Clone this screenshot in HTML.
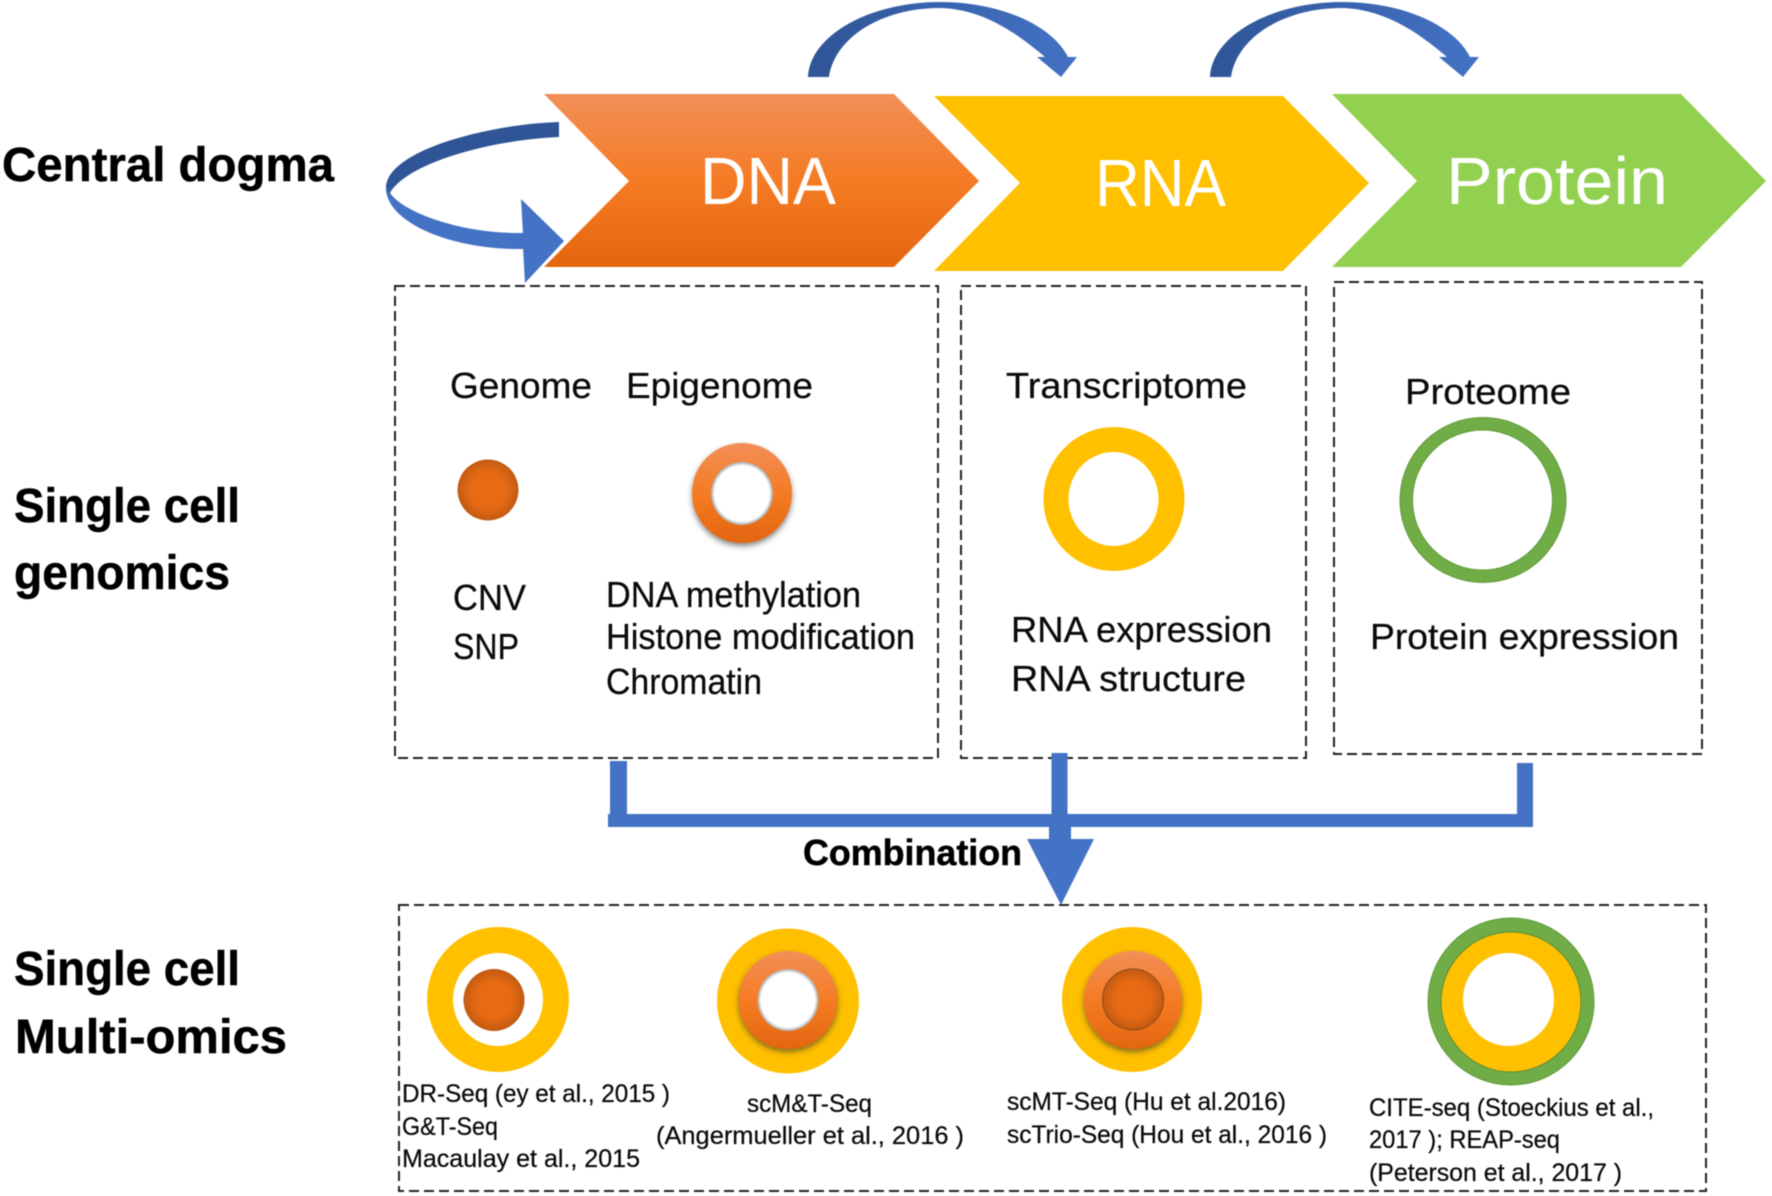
<!DOCTYPE html>
<html>
<head>
<meta charset="utf-8">
<style>
html,body{margin:0;padding:0;background:#fff;width:1772px;height:1196px;overflow:hidden}
svg{display:block;filter:blur(0.5px)}
text{font-family:"Liberation Sans",sans-serif;fill:#0a0a0a;stroke:#0a0a0a;stroke-width:0.25}
.b{font-weight:bold;fill:#000;stroke:#000;stroke-width:0.5}
.w{fill:#fff;stroke:none}
.box{fill:none;stroke:#222;stroke-width:2;stroke-dasharray:10 5}
</style>
</head>
<body>
<svg width="1772" height="1196" viewBox="0 0 1772 1196" xmlns="http://www.w3.org/2000/svg">
<defs>
<linearGradient id="org" x1="0" y1="0" x2="0" y2="1">
<stop offset="0" stop-color="#f28f58"/><stop offset="0.5" stop-color="#f57b24"/><stop offset="1" stop-color="#e3660f"/>
</linearGradient>
<radialGradient id="dot"><stop offset="0" stop-color="#ec6c14"/><stop offset="0.6" stop-color="#e66a14"/><stop offset="1" stop-color="#c25a12"/></radialGradient>
<radialGradient id="hole"><stop offset="0" stop-color="#fff"/><stop offset="0.88" stop-color="#fff"/><stop offset="1" stop-color="#a8a8a8"/></radialGradient>
<linearGradient id="arc" x1="0" y1="0" x2="1" y2="0"><stop offset="0" stop-color="#2f5597"/><stop offset="1" stop-color="#4472c4"/></linearGradient>
<linearGradient id="loop" x1="0" y1="0" x2="0" y2="1"><stop offset="0" stop-color="#2f5597"/><stop offset="0.5" stop-color="#2f5597"/><stop offset="0.6" stop-color="#4472c4"/><stop offset="1" stop-color="#4472c4"/></linearGradient>
<filter id="sh" x="-20%" y="-20%" width="140%" height="140%"><feDropShadow dx="0" dy="3" stdDeviation="3" flood-color="#333" flood-opacity="0.6"/></filter>
</defs>

<!-- chevrons -->
<polygon points="544,94 894,94 979,181 894,267 544,267 629,181" fill="url(#org)"/>
<polygon points="934,96 1283,96 1369,183 1283,271 934,271 1020,183" fill="#ffc000"/>
<polygon points="1332,94 1681,94 1766,181 1681,267 1332,267 1417,181" fill="#92d050"/>
<text class="w" x="700" y="204" font-size="67" textLength="136" lengthAdjust="spacingAndGlyphs">DNA</text>
<text class="w" x="1095" y="206" font-size="67" textLength="131" lengthAdjust="spacingAndGlyphs">RNA</text>
<text class="w" x="1446" y="204" font-size="67" textLength="222" lengthAdjust="spacingAndGlyphs">Protein</text>

<!-- curved arrows -->
<path d="M808 77 C810 35 870 2 940 2 C1000 2 1052 25 1068 57 L1077 57 L1061 77 L1037 57 L1045 57 C1020 36 985 9 940 8 C882 8 835 37 829 77 Z" fill="url(#arc)"/>
<path transform="translate(402,0)" d="M808 77 C810 35 870 2 940 2 C1000 2 1052 25 1068 57 L1077 57 L1061 77 L1037 57 L1045 57 C1020 36 985 9 940 8 C882 8 835 37 829 77 Z" fill="url(#arc)"/>
<path d="M559 122 C490 124 386 150 386 188 C386 222 450 250 523 249 L523 233 C460 234 403 212 390 193 C407 163 490 140 559 137 Z" fill="url(#loop)"/>
<polygon points="521,199 564,241 525,283 523,248 523,234" fill="#4472c4"/>

<!-- labels left -->
<text class="b" x="2" y="181" font-size="48" textLength="332" lengthAdjust="spacingAndGlyphs">Central dogma</text>
<text class="b" x="14" y="522" font-size="48" textLength="226" lengthAdjust="spacingAndGlyphs">Single cell</text>
<text class="b" x="14" y="589" font-size="48" textLength="216" lengthAdjust="spacingAndGlyphs">genomics</text>
<text class="b" x="14" y="985" font-size="48" textLength="226" lengthAdjust="spacingAndGlyphs">Single cell</text>
<text class="b" x="15" y="1053" font-size="48" textLength="272" lengthAdjust="spacingAndGlyphs">Multi-omics</text>

<!-- dashed boxes -->
<rect class="box" x="395" y="286" width="543" height="472"/>
<rect class="box" x="961" y="286" width="345" height="472"/>
<rect class="box" x="1334" y="282" width="368" height="472"/>
<rect class="box" x="399" y="905" width="1307" height="286"/>

<!-- box text -->
<g font-size="36">
<text x="450" y="398" textLength="142" lengthAdjust="spacingAndGlyphs">Genome</text>
<text x="626" y="398" textLength="187" lengthAdjust="spacingAndGlyphs">Epigenome</text>
<text x="1006" y="398" textLength="241" lengthAdjust="spacingAndGlyphs">Transcriptome</text>
<text x="1405" y="404" textLength="166" lengthAdjust="spacingAndGlyphs">Proteome</text>
<text x="453" y="610" textLength="73" lengthAdjust="spacingAndGlyphs">CNV</text>
<text x="453" y="659" textLength="66" lengthAdjust="spacingAndGlyphs">SNP</text>
<text x="606" y="607" textLength="255" lengthAdjust="spacingAndGlyphs">DNA methylation</text>
<text x="606" y="649" textLength="309" lengthAdjust="spacingAndGlyphs">Histone modification</text>
<text x="606" y="694" textLength="156" lengthAdjust="spacingAndGlyphs">Chromatin</text>
<text x="1011" y="642" textLength="261" lengthAdjust="spacingAndGlyphs">RNA expression</text>
<text x="1011" y="691" textLength="235" lengthAdjust="spacingAndGlyphs">RNA structure</text>
<text x="1370" y="649" textLength="309" lengthAdjust="spacingAndGlyphs">Protein expression</text>
</g>

<!-- single circles -->
<ellipse cx="488" cy="490" rx="30.5" ry="30.5" fill="url(#dot)"/>
<ellipse cx="742" cy="493" rx="50" ry="50" fill="url(#org)" filter="url(#sh)"/>
<ellipse cx="742" cy="493.5" rx="31" ry="31.5" fill="url(#hole)"/>
<ellipse cx="1114" cy="499" rx="70.5" ry="72" fill="#ffc000"/>
<ellipse cx="1113.5" cy="499" rx="45" ry="47" fill="#fff"/>
<ellipse cx="1483" cy="500" rx="83" ry="82.5" fill="#70ad47" stroke="#5f9a3c" stroke-width="1"/>
<ellipse cx="1482.5" cy="500" rx="70" ry="70" fill="#fff" stroke="#5f9a3c" stroke-width="1"/>

<!-- connectors -->
<g fill="#4472c4">
<rect x="610" y="761" width="17" height="60"/>
<rect x="608" y="814" width="925" height="13"/>
<rect x="1517" y="763" width="16" height="60"/>
<rect x="1051.5" y="753" width="16" height="70"/>
<rect x="1049" y="820" width="22" height="25"/>
<polygon points="1027,839 1094,839 1061,905"/>
</g>
<text class="b" x="803" y="865" font-size="36" textLength="219" lengthAdjust="spacingAndGlyphs">Combination</text>

<!-- multi-omics circles -->
<ellipse cx="498" cy="999.5" rx="71" ry="72.5" fill="#ffc000"/>
<ellipse cx="498" cy="999.5" rx="45" ry="46.5" fill="#fff"/>
<ellipse cx="494" cy="1000" rx="30.5" ry="31" fill="url(#dot)"/>

<ellipse cx="788" cy="1001" rx="71" ry="72.5" fill="#ffc000"/>
<ellipse cx="788" cy="1000" rx="49.5" ry="49" fill="url(#org)" filter="url(#sh)"/>
<ellipse cx="788" cy="1000" rx="30.5" ry="31" fill="url(#hole)"/>

<ellipse cx="1132" cy="999.5" rx="70" ry="72.5" fill="#ffc000"/>
<ellipse cx="1133" cy="1000" rx="49" ry="49" fill="url(#org)" filter="url(#sh)"/>
<ellipse cx="1133" cy="999.5" rx="30.5" ry="30.5" fill="url(#dot)" stroke="#8a4a18" stroke-width="1"/>

<ellipse cx="1511" cy="1001.5" rx="83" ry="83.5" fill="#70ad47" stroke="#5f9a3c" stroke-width="1"/>
<ellipse cx="1511" cy="1002" rx="70" ry="70" fill="#ffc000" stroke="#5a8a3a" stroke-width="1"/>
<ellipse cx="1508.5" cy="999.5" rx="45.5" ry="46.5" fill="#fff"/>

<!-- multi-omics text -->
<g font-size="25">
<text x="402" y="1102" textLength="268" lengthAdjust="spacingAndGlyphs">DR-Seq (ey et al., 2015 )</text>
<text x="402" y="1135" textLength="96" lengthAdjust="spacingAndGlyphs">G&amp;T-Seq</text>
<text x="402" y="1167" textLength="238" lengthAdjust="spacingAndGlyphs">Macaulay et al., 2015</text>
<text x="747" y="1112" textLength="125" lengthAdjust="spacingAndGlyphs">scM&amp;T-Seq</text>
<text x="656" y="1144" textLength="308" lengthAdjust="spacingAndGlyphs">(Angermueller et al., 2016 )</text>
<text x="1007" y="1110" textLength="279" lengthAdjust="spacingAndGlyphs">scMT-Seq (Hu et al.2016)</text>
<text x="1007" y="1143" textLength="320" lengthAdjust="spacingAndGlyphs">scTrio-Seq (Hou et al., 2016 )</text>
<text x="1369" y="1116" textLength="285" lengthAdjust="spacingAndGlyphs">CITE-seq (Stoeckius et al.,</text>
<text x="1369" y="1148" textLength="191" lengthAdjust="spacingAndGlyphs">2017 ); REAP-seq</text>
<text x="1369" y="1181" textLength="253" lengthAdjust="spacingAndGlyphs">(Peterson et al., 2017 )</text>
</g>
</svg>
</body>
</html>
